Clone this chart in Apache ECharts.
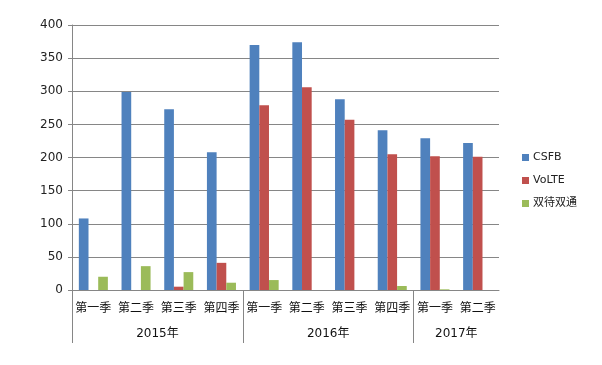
<!DOCTYPE html>
<html><head><meta charset="utf-8">
<script src="https://cdn.jsdelivr.net/npm/echarts@6/dist/echarts.min.js"></script>
<style>html,body{margin:0;padding:0;background:#fff}#c{width:602px;height:365px}</style>
</head><body><div id="c"></div>
<script>
const quarters = ['第一季','第二季','第三季','第四季','第一季','第二季','第三季','第四季','第一季','第二季'];
const years = ['2015年','2016年','2017年'];
const yearSpans = [4, 4, 2];
const csfb = [108, 299, 273, 208, 370, 374, 288, 241, 229, 222];
const volte = [0, 0, 5, 41, 279, 306, 257, 205, 202, 201];
const dual = [20, 36, 27, 11, 15, 0, 0, 6, 1, 0];
const yTicks = [0, 50, 100, 150, 200, 250, 300, 350, 400];

// half-category positions for the year row
const halfCats = [];
const yearLabelAt = {};
const yearTickAt = new Set([0]);
let pos = 0;
years.forEach((y, i) => {
  yearLabelAt[pos + yearSpans[i]] = y;
  pos += yearSpans[i] * 2;
  if (i < years.length - 1) yearTickAt.add(pos);
});
for (let i = 0; i <= quarters.length * 2; i++) halfCats.push(yearLabelAt[i] || '');

const font = 'DejaVu Sans, "Noto Sans CJK SC", sans-serif';
const chart = echarts.init(document.getElementById('c'));
chart.setOption({
  animation: false,
  backgroundColor: '#fff',
  color: ['#4F81BD', '#C0504D', '#9BBB59'],
  grid: { left: 72, right: 103, top: 25, bottom: 75 },
  legend: {
    orient: 'vertical', left: 517, top: 147,
    itemWidth: 7, itemHeight: 7, itemGap: 12,
    icon: 'rect',
    textStyle: { fontSize: 11, color: '#222', fontFamily: font, padding: [0, 0, 0, -1] },
    data: ['CSFB', 'VoLTE', '双待双通']
  },
  xAxis: [
    {
      type: 'category', data: quarters, position: 'bottom',
      axisLine: { lineStyle: { color: '#868686', width: 1 } },
      axisTick: { interval: 0, length: 27, lineStyle: { color: '#868686' } },
      axisLabel: { interval: 0, margin: 11, fontSize: 12, color: '#111', fontFamily: '"Noto Sans CJK SC", sans-serif' }
    },
    {
      type: 'category', data: halfCats, position: 'bottom', boundaryGap: false,
      axisLine: { show: false },
      axisTick: { interval: (i) => yearTickAt.has(i), length: 53, lineStyle: { color: '#868686' } },
      axisLabel: { interval: (i) => halfCats[i] !== '', margin: 38, fontSize: 12, color: '#111', fontFamily: font }
    }
  ],
  yAxis: {
    type: 'value', min: yTicks[0], max: yTicks[yTicks.length - 1], interval: 50,
    axisLine: { show: true, lineStyle: { color: '#868686' } },
    axisTick: { show: true, length: 4, lineStyle: { color: '#868686' } },
    splitLine: { lineStyle: { color: '#868686', width: 1 } },
    axisLabel: { margin: 9, fontSize: 12, color: '#222', fontFamily: font }
  },
  series: [
    { name: 'CSFB', type: 'bar', data: csfb, barGap: '0%', barCategoryGap: '32%', xAxisIndex: 0 },
    { name: 'VoLTE', type: 'bar', data: volte, barGap: '0%', barCategoryGap: '32%', xAxisIndex: 0 },
    { name: '双待双通', type: 'bar', data: dual, barGap: '0%', barCategoryGap: '32%', xAxisIndex: 0 }
  ]
});
</script></body></html>
